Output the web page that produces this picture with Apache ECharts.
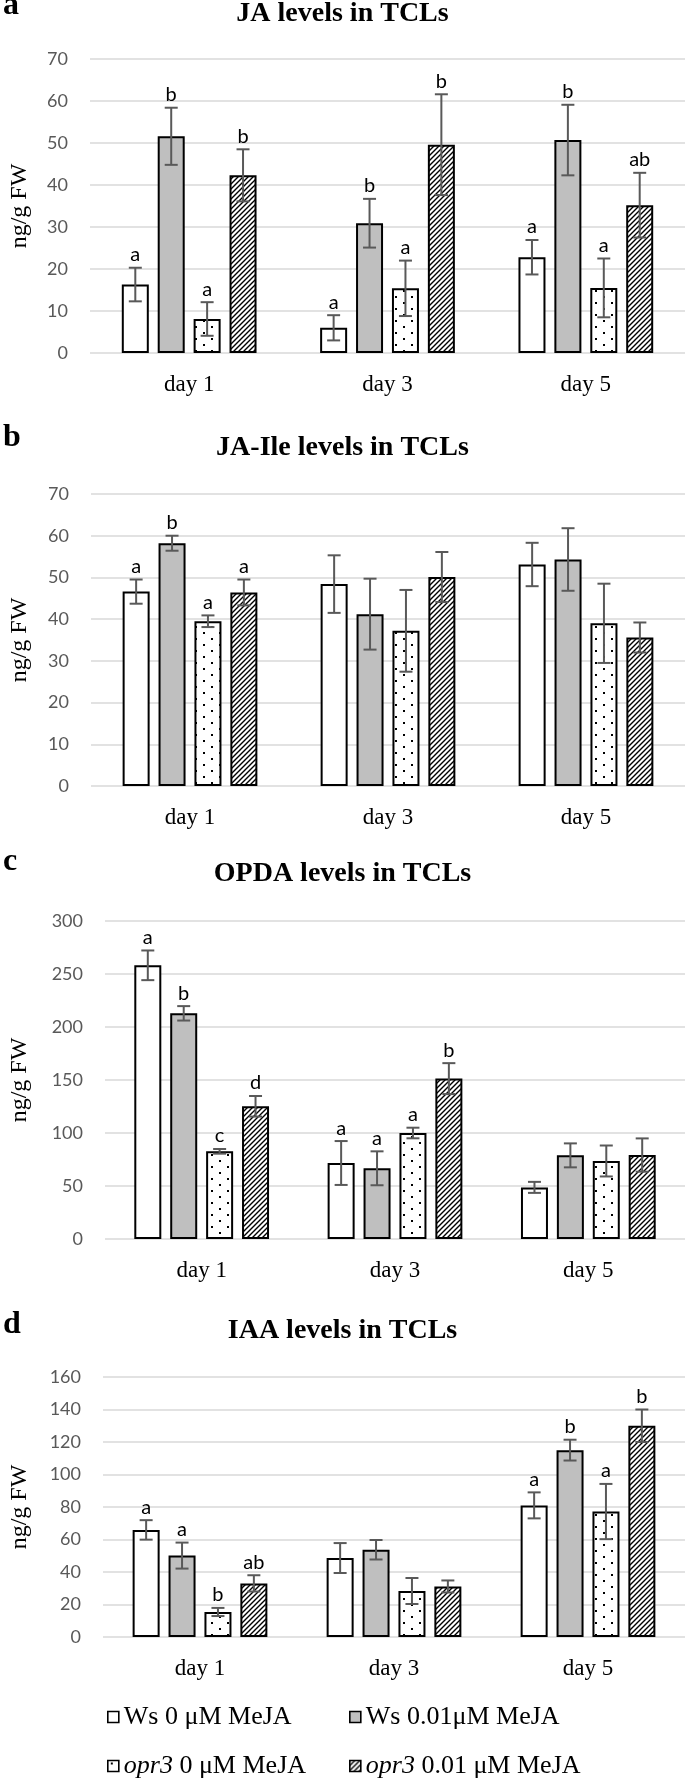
<!DOCTYPE html>
<html>
<head>
<meta charset="utf-8">
<script src="https://cdn.jsdelivr.net/npm/echarts@6/dist/echarts.min.js"></script>
<style>
html,body{margin:0;padding:0;background:#fff;}
#chart{width:685px;height:1778px;}
</style>
</head>
<body>
<div id="chart"></div>
<script>
// ---------- DATA ----------
const categories = ['day 1', 'day 3', 'day 5'];
const seriesNames = ['Ws 0 μM MeJA', 'Ws 0.01μM MeJA', 'opr3 0 μM MeJA', 'opr3 0.01 μM MeJA'];
const panelTitles = ['JA levels in TCLs', 'JA-Ile levels in TCLs', 'OPDA levels in TCLs', 'IAA levels in TCLs'];
const panelLetters = ['a', 'b', 'c', 'd'];
const yAxisName = 'ng/g FW';
const yMax = [70, 70, 300, 160];
const yStep = [10, 10, 50, 20];

// a: JA
const jaWs0 = [16.3, 6.0, 22.8];
const jaWs001 = [51.6, 30.9, 50.7];
const jaOpr0 = [8.1, 15.4, 15.5];
const jaOpr001 = [42.3, 49.6, 35.2];
const jaWs0Err = [4.0, 3.0, 4.1];
const jaWs001Err = [6.8, 5.8, 8.4];
const jaOpr0Err = [4.0, 6.6, 7.0];
const jaOpr001Err = [6.2, 12.0, 7.7];
const jaWs0Sig = ['a', 'a', 'a'];
const jaWs001Sig = ['b', 'b', 'b'];
const jaOpr0Sig = ['a', 'a', 'a'];
const jaOpr001Sig = ['b', 'b', 'ab'];

// b: JA-Ile
const ileWs0 = [46.6, 48.4, 53.1];
const ileWs001 = [58.2, 41.2, 54.3];
const ileOpr0 = [39.5, 37.2, 39.0];
const ileOpr001 = [46.4, 50.1, 35.6];
const ileWs0Err = [2.9, 6.9, 5.2];
const ileWs001Err = [1.8, 8.5, 7.5];
const ileOpr0Err = [1.4, 9.8, 9.5];
const ileOpr001Err = [3.1, 6.0, 3.6];
const ileWs0Sig = ['a', '', ''];
const ileWs001Sig = ['b', '', ''];
const ileOpr0Sig = ['a', '', ''];
const ileOpr001Sig = ['a', '', ''];

// c: OPDA
const opdaWs0 = [258.2, 71.7, 48.7];
const opdaWs001 = [212.9, 66.7, 78.9];
const opdaOpr0 = [82.7, 100.0, 73.6];
const opdaOpr001 = [125.2, 151.3, 79.2];
const opdaWs0Err = [14.0, 20.7, 5.2];
const opdaWs001Err = [6.8, 16.0, 11.3];
const opdaOpr0Err = [2.2, 5.0, 14.6];
const opdaOpr001Err = [9.7, 14.6, 15.7];
const opdaWs0Sig = ['a', 'a', ''];
const opdaWs001Sig = ['b', 'a', ''];
const opdaOpr0Sig = ['c', 'a', ''];
const opdaOpr001Sig = ['d', 'b', ''];

// d: IAA
const iaaWs0 = [65.9, 48.6, 81.0];
const iaaWs001 = [50.1, 53.7, 115.0];
const iaaOpr0 = [15.4, 28.3, 77.2];
const iaaOpr001 = [33.0, 31.1, 130.0];
const iaaWs0Err = [6.0, 9.2, 8.0];
const iaaWs001Err = [8.0, 6.0, 6.4];
const iaaOpr0Err = [2.5, 8.0, 17.0];
const iaaOpr001Err = [5.0, 3.7, 10.0];
const iaaWs0Sig = ['a', '', 'a'];
const iaaWs001Sig = ['a', '', 'b'];
const iaaOpr0Sig = ['b', '', 'a'];
const iaaOpr001Sig = ['ab', '', 'b'];

const panels = [
  { means: [jaWs0, jaWs001, jaOpr0, jaOpr001], errs: [jaWs0Err, jaWs001Err, jaOpr0Err, jaOpr001Err], sigs: [jaWs0Sig, jaWs001Sig, jaOpr0Sig, jaOpr001Sig] },
  { means: [ileWs0, ileWs001, ileOpr0, ileOpr001], errs: [ileWs0Err, ileWs001Err, ileOpr0Err, ileOpr001Err], sigs: [ileWs0Sig, ileWs001Sig, ileOpr0Sig, ileOpr001Sig] },
  { means: [opdaWs0, opdaWs001, opdaOpr0, opdaOpr001], errs: [opdaWs0Err, opdaWs001Err, opdaOpr0Err, opdaOpr001Err], sigs: [opdaWs0Sig, opdaWs001Sig, opdaOpr0Sig, opdaOpr001Sig] },
  { means: [iaaWs0, iaaWs001, iaaOpr0, iaaOpr001], errs: [iaaWs0Err, iaaWs001Err, iaaOpr0Err, iaaOpr001Err], sigs: [iaaWs0Sig, iaaWs001Sig, iaaOpr0Sig, iaaOpr001Sig] }
];

// ---------- LAYOUT / STYLE ----------
const gridBoxes = [
  { left: 87, top: 59, height: 294 },
  { left: 87, top: 494, height: 292 },
  { left: 100, top: 921, height: 318 },
  { left: 99, top: 1377, height: 260 }
];
const titleCenters = [14, 448, 874, 1331];
const letterCenters = [6, 438, 862, 1325];
const nameGaps = [58, 59, 73, 71];
const BAR_W = 27;
const BAR_GAP = 0.33;
const SERIF = '"Liberation Serif", "Times New Roman", serif';
const SANS = 'Lato, "Open Sans", sans-serif';

function dotCanvas() {
  const c = document.createElement('canvas');
  c.width = 16; c.height = 12;
  const g = c.getContext('2d');
  g.fillStyle = '#fff'; g.fillRect(0, 0, 16, 12);
  g.fillStyle = '#000';
  g.fillRect(3, 2, 2, 2);
  g.fillRect(11, 8, 2, 2);
  return c;
}
function hatchCanvas() {
  const s = 5;
  const c = document.createElement('canvas');
  c.width = s; c.height = s;
  const g = c.getContext('2d');
  g.fillStyle = '#fff'; g.fillRect(0, 0, s, s);
  g.strokeStyle = '#000'; g.lineWidth = 1.4;
  g.beginPath();
  g.moveTo(-1, s + 1); g.lineTo(s + 1, -1);
  g.moveTo(-1, 1); g.lineTo(1, -1);
  g.moveTo(s - 1, s + 1); g.lineTo(s + 1, s - 1);
  g.stroke();
  return c;
}
const fills = [
  '#ffffff',
  '#bfbfbf',
  { image: dotCanvas(), repeat: 'repeat' },
  { image: hatchCanvas(), repeat: 'repeat' }
];

const grid = [], xAxis = [], yAxis = [], series = [], title = [];

panels.forEach((p, pi) => {
  const gb = gridBoxes[pi];
  grid.push({ left: gb.left, top: gb.top, height: gb.height, right: 0 });
  xAxis.push({
    type: 'category', gridIndex: pi, data: categories,
    axisLine: { show: false }, axisTick: { show: false },
    axisLabel: { fontFamily: SERIF, fontSize: 23, color: '#000', margin: 20 }
  });
  yAxis.push({
    type: 'value', gridIndex: pi, min: 0, max: yMax[pi], interval: yStep[pi],
    name: yAxisName, nameLocation: 'middle', nameGap: nameGaps[pi],
    nameTextStyle: { fontFamily: SERIF, fontSize: 24, color: '#000' },
    axisLine: { show: false }, axisTick: { show: false },
    axisLabel: { fontFamily: SANS, fontSize: 18, color: '#595959', margin: 22 },
    splitLine: { lineStyle: { color: '#d9d9d9', width: 1.6 } }
  });
  title.push({
    text: panelTitles[pi], left: 'center', top: titleCenters[pi] - 14, padding: 0,
    textStyle: { fontFamily: SERIF, fontWeight: 'bold', fontSize: 28, color: '#000' }
  });
  title.push({
    text: panelLetters[pi], left: 3, top: letterCenters[pi] - 16, padding: 0,
    textStyle: { fontFamily: SERIF, fontWeight: 'bold', fontSize: 32, color: '#000' }
  });

  p.means.forEach((vals, si) => {
    series.push({
      type: 'bar', name: seriesNames[si], xAxisIndex: pi, yAxisIndex: pi,
      data: vals, barWidth: BAR_W, barGap: (BAR_GAP * 100) + '%',
      itemStyle: { color: fills[si], borderColor: '#000', borderWidth: 2 },
      emphasis: { disabled: true }, animation: false
    });
  });
  p.means.forEach((vals, si) => {
    const errs = p.errs[si];
    const sigs = p.sigs[si];
    const offset = (si - 1.5) * BAR_W * (1 + BAR_GAP);
    series.push({
      type: 'custom', xAxisIndex: pi, yAxisIndex: pi, z: 5, animation: false,
      data: vals.map((v, ci) => [ci, v, errs[ci]]),
      encode: { x: 0, y: 1 },
      renderItem: function (params, api) {
        const ci = api.value(0), m = api.value(1), e = api.value(2);
        const x = api.coord([ci, m])[0] + offset;
        const yT = api.coord([ci, m + e])[1];
        const yB = api.coord([ci, Math.max(0, m - e)])[1];
        const cap = 6.5;
        const ls = { stroke: '#595959', lineWidth: 2 };
        const ch = [
          { type: 'line', shape: { x1: x, y1: yT, x2: x, y2: yB }, style: ls },
          { type: 'line', shape: { x1: x - cap, y1: yT, x2: x + cap, y2: yT }, style: ls },
          { type: 'line', shape: { x1: x - cap, y1: yB, x2: x + cap, y2: yB }, style: ls }
        ];
        const s = sigs[params.dataIndex];
        if (s) {
          ch.push({ type: 'text', style: { text: s, x: x, y: yT - 3, align: 'center', verticalAlign: 'bottom', font: '20px ' + SANS, fill: '#000' } });
        }
        return { type: 'group', children: ch };
      }
    });
  });
});

const legendRows = [1717, 1766];
const legendLefts = [107, 349];
const legend = seriesNames.map((n, i) => ({
  data: [n], left: legendLefts[i % 2], top: legendRows[Math.floor(i / 2)] - 13,
  padding: 0, itemWidth: 11, itemHeight: 11, selectedMode: false,
  icon: 'rect',
  itemStyle: { borderColor: '#000', borderWidth: 1.6 },
  formatter: function (name) { return name.indexOf('opr3') === 0 ? '{i|opr3}' + name.slice(4) : name; },
  textStyle: {
    fontFamily: SERIF, fontSize: 26, color: '#000',
    rich: { i: { fontFamily: SERIF, fontSize: 26, fontStyle: 'italic', color: '#000' } }
  }
}));

const chart = echarts.init(document.getElementById('chart'), null, { renderer: 'canvas' });
chart.setOption({
  animation: false,
  backgroundColor: '#fff',
  title: title,
  grid: grid,
  xAxis: xAxis,
  yAxis: yAxis,
  legend: legend,
  series: series
});
</script>
</body>
</html>
